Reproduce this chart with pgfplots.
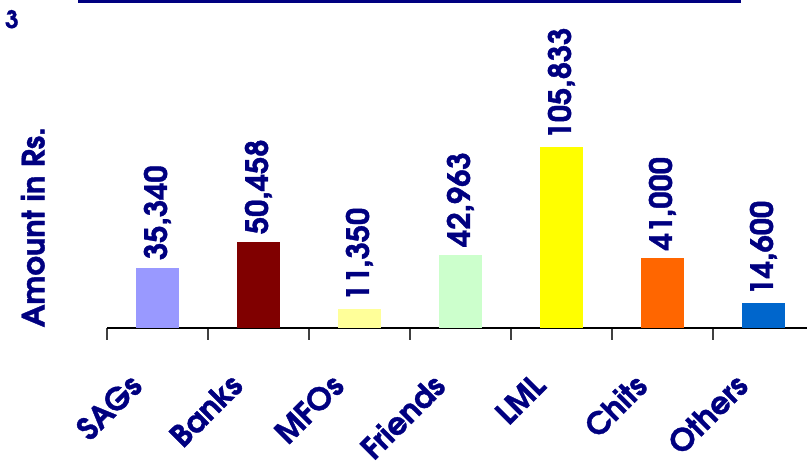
\documentclass[border=0pt]{standalone}
\usepackage{fontspec}
\setmainfont{TeX Gyre Adventor}[BoldFeatures={FakeBold=1.2}]
\usepackage{pgfplots}
\pgfplotsset{compat=1.18}
\definecolor{navy}{RGB}{0,0,128}
\definecolor{cSAG}{HTML}{9999FF}
\definecolor{cBank}{HTML}{800000}
\definecolor{cMFO}{HTML}{FFFF99}
\definecolor{cFriend}{HTML}{CCFFCC}
\definecolor{cLML}{HTML}{FFFF00}
\definecolor{cChit}{HTML}{FF6600}
\definecolor{cOther}{HTML}{0066CC}
\newcommand\lblfont{\bfseries\fontsize{23}{23}\selectfont}
\begin{document}
\begin{tikzpicture}[x=0.75pt,y=0.75pt]
\useasboundingbox (0,0) rectangle (807,467);
% title rule and slide number
\draw[navy, line width=2.25pt] (78,465.5) -- (741,465.5);
\node[navy, font=\bfseries\fontsize{18}{18}\selectfont, anchor=base west, inner sep=0pt] at (5,439) {3};
% where the data origin sits on the page
\coordinate (O) at (157.5,139);
\begin{axis}[
  at={(O)}, anchor=origin, scale only axis,
  width=525pt, height=243.75pt,
  xmin=-0.5, xmax=6.431, ymin=0, ymax=190000,
  axis x line*=bottom, axis y line*=left,
  y axis line style={draw=none}, ytick=\empty,
  x axis line style={black, line width=1.1pt, -},
  xtick={0,...,6},
  xticklabels={SAGs,Banks,MFOs,Friends,LML,Chits,Others},
  major tick length=0pt,
  minor xtick={-0.5,0.5,...,6.5},
  minor tick length=9pt,
  tick align=outside,
  every minor tick/.style={draw=black!75, line width=0.9pt},
  xticklabel style={xshift=-22.5pt, yshift=-27.75pt, rotate=45, anchor=north east, text=navy, font=\lblfont},
  ylabel={Amount in Rs.},
  ylabel style={at={(axis description cs:-0.106,0.31)}, anchor=center, text=navy, font=\lblfont},
  ybar, bar width=32.25pt, bar shift=0pt,
  /pgf/number format/fixed,
  /pgf/number format/precision=0,
  /pgf/number format/assume math mode=true,
  /pgf/number format/1000 sep={,},
  nodes near coords,
  every node near coord/.append style={rotate=90, anchor=west, xshift=2.25pt, text=navy, font=\lblfont},
  clip=false,
]
\addplot[fill=cSAG, draw=none] coordinates {(0,35340)};
\addplot[fill=cBank, draw=none] coordinates {(1,50458)};
\addplot[fill=cMFO, draw=none] coordinates {(2,11350)};
\addplot[fill=cFriend, draw=none] coordinates {(3,42963)};
\addplot[fill=cLML, draw=none] coordinates {(4,105833)};
\addplot[fill=cChit, draw=none] coordinates {(5,41000)};
\addplot[fill=cOther, draw=none] coordinates {(6,14600)};
\end{axis}
\end{tikzpicture}
\end{document}
